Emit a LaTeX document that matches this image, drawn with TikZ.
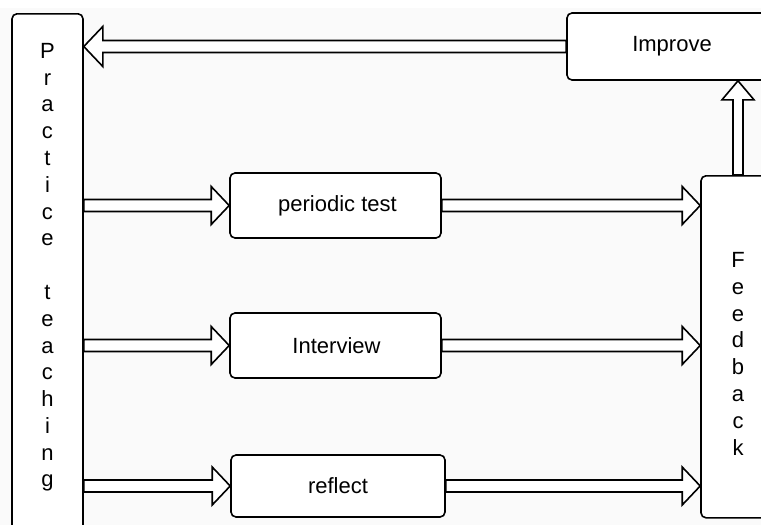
\documentclass[tikz,border=0pt]{standalone}
\usepackage{fontspec}
\setmainfont{Liberation Sans}
\usetikzlibrary{calc}
\definecolor{bgc}{HTML}{FAFAFA}
\newcommand\rblock[2]{%
  \draw[arr] ($(#1)+(0,-6)$) -- ($(#2)+(-18,-6)$) -- ($(#2)+(-18,-19)$) -- (#2)
    -- ($(#2)+(-18,19)$) -- ($(#2)+(-18,6)$) -- ($(#1)+(0,6)$) -- cycle;}
\begin{document}
\begin{tikzpicture}[x=1pt,y=-1pt,
  box/.style={draw, line width=1.6pt, rounded corners=5pt, fill=white, inner sep=0pt,
    font=\fontsize{22}{26.8}\selectfont},
  arr/.style={draw, line width=1.6pt, fill=white, line join=miter}]
\useasboundingbox (0,0) rectangle (761,525);
\clip (0,0) rectangle (761,525);
\fill[white] (0,0) rectangle (761,525);
\fill[bgc] (0,8) rectangle (761,525);
% nodes
\node[box, minimum width=71pt, text height=44.4pt, text depth=491pt, anchor=north] (L) at (47.5,13)
  {\parbox[t]{60pt}{\centering\fontsize{22}{26.8}\selectfont P\\r\\a\\c\\t\\i\\c\\e\\\mbox{}\\t\\e\\a\\c\\h\\i\\n\\g}};
\node[box, minimum width=74pt, minimum height=342pt, text height=27.75pt, text depth=186.3pt, anchor=north] (F) at (738,175)
  {\parbox[t]{40pt}{\centering\fontsize{22}{26.8}\selectfont F\\e\\e\\d\\b\\a\\c\\k}};
\node[box, minimum width=210pt, minimum height=67pt] (I) at (672,46.5) {Improve};
\node[box, minimum width=211pt, minimum height=65pt] (P) at (335.5,205.5) {\hspace{4pt}periodic test};
\node[box, minimum width=211pt, minimum height=65pt] (T) at (335.5,345.5) {\hspace{2pt}Interview};
\node[box, minimum width=214pt, minimum height=62pt] (R) at (338,486) {reflect};
% arrows
\rblock{L.east |- P.west}{P.west}
\rblock{L.east |- T.west}{T.west}
\rblock{L.east |- R.west}{R.west}
\rblock{P.east}{F.west |- P.east}
\rblock{T.east}{F.west |- T.east}
\rblock{R.east}{F.west |- R.east}
\draw[arr] ($(I.west)+(0,-6)$) -- ($(L.east |- I.west)+(19,-6)$) -- ++(0,-14) -- (L.east |- I.west)
  -- ($(L.east |- I.west)+(19,20)$) -- ++(0,-14) -- ($(I.west)+(0,6)$) -- cycle;
\draw[arr] ($(F.north)+(-5,0)$) -- ($(F.north |- I.south)+(-5,19)$) -- ++(-11,0) -- (F.north |- I.south)
  -- ($(F.north |- I.south)+(16,19)$) -- ++(-11,0) -- ($(F.north)+(5,0)$) -- cycle;
\end{tikzpicture}
\end{document}
